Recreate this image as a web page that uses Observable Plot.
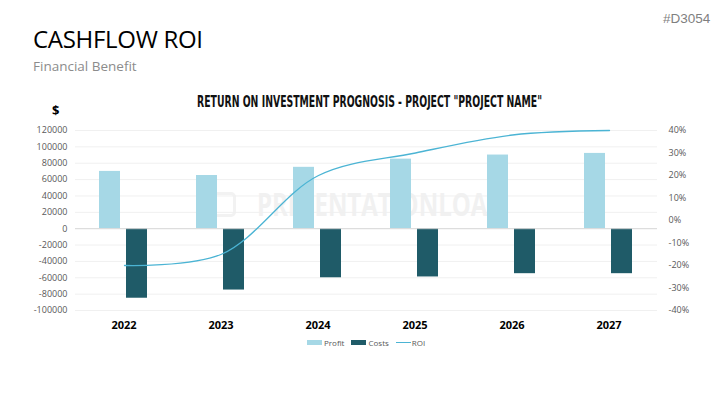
<!DOCTYPE html>
<html>
<head>
<meta charset="utf-8">
<script src="https://cdn.jsdelivr.net/npm/d3@7"></script>
<script src="https://cdn.jsdelivr.net/npm/@observablehq/plot@0.6"></script>
<style>
  html, body { margin: 0; padding: 0; background: #fff; }
  #page { position: relative; width: 727px; height: 409px; overflow: hidden; font-family: "Open Sans", sans-serif; }
  .abs { position: absolute; white-space: nowrap; }
  #page svg.plot { position: absolute; left: 0; top: 0; }
  .fit { position: absolute; white-space: nowrap; transform-origin: 0 0; line-height: 1; }
  .legend { position: absolute; top: 337px; left: 307px; display: flex; align-items: center; font-size: 8px; color: #595959; font-family: "Open Sans", sans-serif; }
  .legend .item { display: flex; align-items: center; margin-right: 7px; }
  .legend .sw { width: 15px; height: 5px; margin-right: 2px; }
  .legend .ln { width: 15px; height: 1.3px; margin-right: 1px; }
</style>
</head>
<body>
<div id="page">
  <div class="abs" style="left:33px; top:22px; font-size:24px; color:#000; letter-spacing:-0.3px;">CASHFLOW ROI</div>
  <div class="abs" style="left:33px; top:57px; font-size:13.5px; color:#8c8c8c;">Financial Benefit</div>
  <div class="abs" style="left:663px; top:11px; font-size:13.5px; color:#7f7f7f; font-family:'Liberation Sans', sans-serif;">#D3054</div>
  <div class="abs" style="left:212px; top:192px; width:24px; height:25px; border:3px solid #f2f2f2; border-radius:5px; box-sizing:border-box;"></div>
  <div class="fit" id="wm" data-left="257" data-width="248" style="top:188px; font-size:32px; font-weight:bold; color:#f1f1f1; font-family:'Open Sans', sans-serif;">PRESENTATIONLOAD</div>
  <div class="fit" id="title" data-left="197" data-width="345" style="top:94px; font-size:16.5px; font-weight:bold; color:#111; font-family:'Liberation Sans Narrow','DejaVu Sans Condensed',sans-serif;">RETURN ON INVESTMENT PROGNOSIS - PROJECT "PROJECT NAME"</div>
  <div class="abs" style="left:52px; top:101px; font-size:13px; font-weight:bold; color:#000;">$</div>
  <div class="legend">
    <div class="item"><div class="sw" style="background:#a6d8e6"></div>Profit</div>
    <div class="item"><div class="sw" style="background:#1f5b68"></div>Costs</div>
    <div class="item"><div class="ln" style="background:#4bb4d4"></div>ROI</div>
  </div>
</div>
<script>
const years = ["2022", "2023", "2024", "2025", "2026", "2027"];
const series = ["Profit", "Costs"];
const profit = [70000, 65000, 75000, 85000, 90000, 92000];
const costs = [-85000, -75000, -60000, -59000, -55000, -55000];
const roi = [-20, -15, 20, 30, 38, 40];
const leftTicks = [-100000, -80000, -60000, -40000, -20000, 0, 20000, 40000, 60000, 80000, 100000, 120000];
const rightTicks = [-40, -30, -20, -10, 0, 10, 20, 30, 40];

const bars = years.flatMap((y, i) => [
  {year: y, series: "Profit", value: profit[i]},
  {year: y, series: "Costs", value: costs[i]}
]);
const roiData = years.map((y, i) => ({year: y, roi: roi[i]}));

const common = {
  width: 727, height: 409,
  marginLeft: 73, marginRight: 68, marginTop: 130, marginBottom: 99,
  style: {background: "transparent", fontFamily: "Open Sans, sans-serif", fontSize: "9px", color: "#595959", overflow: "visible"}
};

const chart = Plot.plot({
  ...common,
  fx: {domain: years, padding: 0, axis: null, label: null},
  x: {domain: series, paddingInner: 0.214, paddingOuter: 0.85, axis: null},
  y: {domain: [-100000, 120000], axis: null},
  color: {domain: series, range: ["#a6d8e6", "#1f5b68"]},
  marks: [
    Plot.ruleY(leftTicks, {stroke: "#f0f0f0", strokeWidth: 1}),
    Plot.barY(bars, {fx: "year", x: "series", y: "value", fill: "series"}),
    Plot.ruleY([0], {stroke: "#d9d9d9", strokeWidth: 1}),
    Plot.axisY(leftTicks, {anchor: "left", tickSize: 0, tickPadding: 8, tickFormat: d => String(d), fill: "#595959", fontSize: 9, label: null}),
    Plot.axisFx({anchor: "bottom", tickSize: 0, tickPadding: 11, fontSize: 11, fontWeight: "bold", fill: "#000", label: null})
  ]
});
chart.classList.add("plot");

const roiChart = Plot.plot({
  ...common,
  x: {type: "point", domain: years, padding: 0.5, axis: null},
  y: {domain: [-40, 40], axis: null},
  marks: [
    Plot.line(roiData, {x: "year", y: "roi", stroke: "#4bb4d4", strokeWidth: 1.3, curve: "catmull-rom"}),
    Plot.axisY(rightTicks, {anchor: "right", tickSize: 0, tickPadding: 9, tickFormat: d => d + "%", fill: "#595959", fontSize: 9, label: null})
  ]
});
roiChart.classList.add("plot");

const page = document.getElementById("page");
page.insertBefore(chart, page.querySelector(".legend"));
page.insertBefore(roiChart, page.querySelector(".legend"));

// squeeze the condensed headline texts horizontally to the widths seen in the reference
document.querySelectorAll(".fit").forEach(el => {
  const w = el.getBoundingClientRect().width;
  const target = +el.dataset.width;
  el.style.left = el.dataset.left + "px";
  el.style.transform = `scaleX(${target / w})`;
});
</script>
</body>
</html>
